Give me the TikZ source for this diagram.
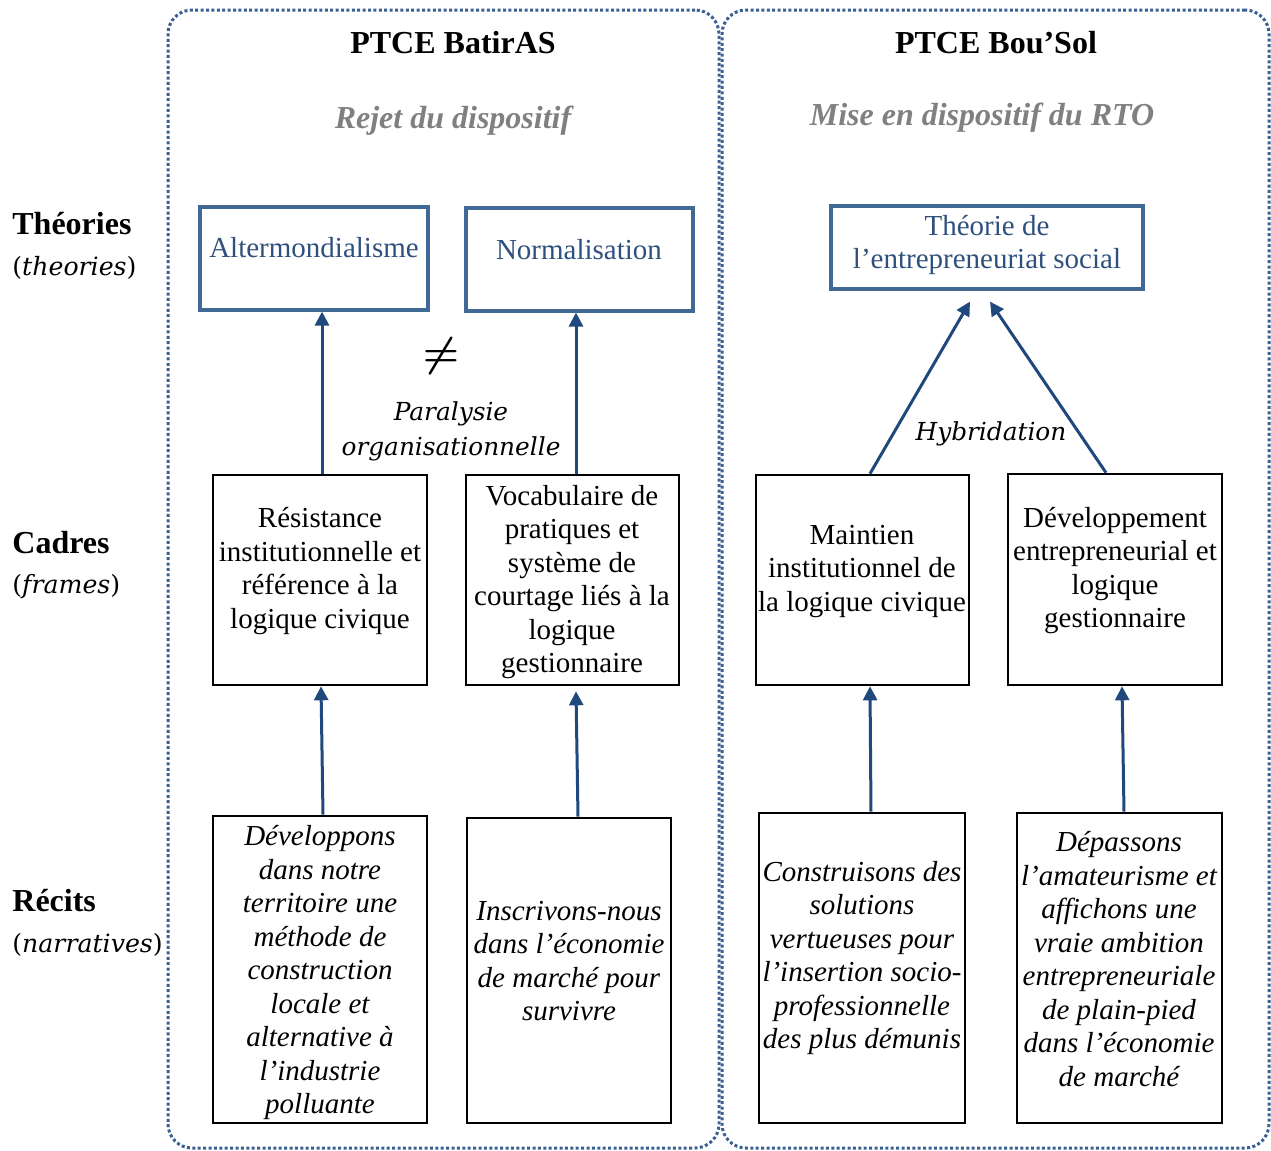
\documentclass[tikz,border=0pt]{standalone}
\usepackage{fontspec}
\setmainfont{Liberation Serif}
\newfontfamily\camb{DejaVu Serif}
\usetikzlibrary{arrows.meta}
\definecolor{dotblue}{RGB}{59,95,145}
\definecolor{theoblue}{RGB}{65,105,150}
\definecolor{theotext}{RGB}{47,80,125}
\definecolor{arrblue}{RGB}{31,73,125}
\definecolor{subgray}{RGB}{128,128,128}
\tikzset{
  panel/.style={draw=dotblue, line width=1.5pt, dash pattern=on 1.5pt off 1.2pt, rounded corners=12pt, inner sep=0pt},
  tbox/.style={draw=theoblue, line width=1.6pt, inner sep=0pt},
  fbox/.style={draw=black, line width=1.3pt, inner sep=0pt},
  txt/.style={align=center, inner sep=0pt, font=\fontsize{14.5}{16.75}\selectfont},
  ttxt/.style={txt, text=theotext},
  itxt/.style={txt, font=\fontsize{14.5}{16.75}\selectfont\itshape},
  ctxt/.style={align=center, inner sep=0pt, font=\fontsize{12.4}{17.5}\selectfont\camb\itshape},
  title/.style={inner sep=0pt, font=\fontsize{16}{19}\selectfont\bfseries},
  subtitle/.style={inner sep=0pt, text=subgray, font=\fontsize{16}{19}\selectfont\bfseries\itshape},
  rowlab/.style={inner sep=0pt, anchor=west, font=\fontsize{16}{19}\selectfont\bfseries},
  rowsub/.style={inner sep=0pt, anchor=west, font=\fontsize{12.6}{15}\selectfont\camb},
  arr/.style={draw=arrblue, line width=1.5pt, -{Triangle[length=7pt,width=7pt]}}
}
\begin{document}
\begin{tikzpicture}[x=0.5pt,y=-0.5pt]
\useasboundingbox (0,0) rectangle (1271,1151);
% panels
\node[panel, minimum width=275.5pt, minimum height=569pt] (pl) at (443.5,579) {};
\node[panel, minimum width=273.5pt, minimum height=569pt] (pr) at (995.5,579) {};
% titles
\node[title] (t1) at (453,43) {PTCE BatirAS};
\node[title] (t2) at (996,43) {PTCE Bou’Sol};
\node[subtitle] (s1) at (453,121) {Rejet du dispositif};
\node[subtitle] (s2) at (982,118) {Mise en dispositif du RTO};
% row labels
\node[rowlab] (r1) at (12,224) {Théories};
\node[rowsub] (r1b) at (12,268) {(\textit{theories})};
\node[rowlab] (r2) at (12,543) {Cadres};
\node[rowsub] (r2b) at (12,587) {(\textit{frames})};
\node[rowlab] (r3) at (12,901) {Récits};
\node[rowsub] (r3b) at (12,945) {(\textit{narratives})};
% theory boxes
\node[tbox, minimum width=114pt, minimum height=51.5pt] (alt) at (314,258.5) {};
\node[ttxt] (altT) at (314,248) {Altermondialisme};
\node[tbox, minimum width=113.5pt, minimum height=51.5pt] (norm) at (579.5,259.5) {};
\node[ttxt] (normT) at (579,250) {Normalisation};
\node[tbox, minimum width=156pt, minimum height=41.5pt] (theo) at (987,247.5) {};
\node[ttxt] (theoT) at (987,245) {Théorie de\\l’entrepreneuriat social};
% frame boxes
\node[fbox, minimum width=107pt, minimum height=105pt] (res) at (320,580) {};
\node[txt] (resT) at (320,571) {Résistance\\institutionnelle et\\référence à la\\logique civique};
\node[fbox, minimum width=106.5pt, minimum height=105pt] (voc) at (572.5,580) {};
\node[txt] (vocT) at (572,582) {Vocabulaire de\\pratiques et\\système de\\courtage liés à la\\logique\\gestionnaire};
\node[fbox, minimum width=106.5pt, minimum height=105pt] (mai) at (862.5,580) {};
\node[txt] (maiT) at (862,571.5) {Maintien\\institutionnel de\\la logique civique};
\node[fbox, minimum width=107pt, minimum height=105.5pt] (dev) at (1115,579.5) {};
\node[txt] (devT) at (1115,570.5) {Développement\\entrepreneurial et\\logique\\gestionnaire};
% narrative boxes
\node[fbox, minimum width=107pt, minimum height=153.5pt] (dvp) at (320,969.5) {};
\node[itxt] (dvpT) at (320,973) {Développons\\dans notre\\territoire une\\méthode de\\construction\\locale et\\alternative à\\l’industrie\\polluante};
\node[fbox, minimum width=102pt, minimum height=152.5pt] (ins) at (569,970.5) {};
\node[itxt] (insT) at (569,961) {Inscrivons-nous\\dans l’économie\\de marché pour\\survivre};
\node[fbox, minimum width=103pt, minimum height=155pt] (con) at (862,968) {};
\node[itxt] (conT) at (862,958) {Construisons des\\solutions\\vertueuses pour\\l’insertion socio-\\professionnelle\\des plus démunis};
\node[fbox, minimum width=102.5pt, minimum height=155pt] (dep) at (1119.5,968) {};
\node[itxt] (depT) at (1119,959) {Dépassons\\l’amateurisme et\\affichons une\\vraie ambition\\entrepreneuriale\\de plain-pied\\dans l’économie\\de marché};
% labels
\node[inner sep=0pt, font=\fontsize{21}{23}\selectfont\boldmath] (neq) at (441,356) {$\neq$};
\node[ctxt] (para) at (451,431.5) {Paralysie\\organisationnelle};
\node[ctxt] (hyb) at (991,434) {Hybridation};
% arrows
\draw[arr] ([xshift=1pt]res.north) -- ([xshift=4pt]alt.south);
\draw[arr] ([xshift=1.75pt]voc.north) -- ([xshift=-1.75pt]norm.south);
\draw[arr] ([xshift=1.5pt]dvp.north) -- ([xshift=0.5pt]res.south);
\draw[arr] ([xshift=4.5pt]ins.north) -- ([xshift=1.75pt,yshift=-2.5pt]voc.south);
\draw[arr] ([xshift=4.5pt]con.north) -- ([xshift=3.75pt]mai.south);
\draw[arr] ([xshift=2.25pt]dep.north) -- ([xshift=3.5pt]dev.south);
\draw[arr] ([xshift=3.75pt]mai.north) -- ([xshift=-8.5pt,yshift=-5.5pt]theo.south);
\draw[arr] ([xshift=-4.5pt]dev.north) -- ([xshift=1.5pt,yshift=-5.5pt]theo.south);
\end{tikzpicture}
\end{document}
